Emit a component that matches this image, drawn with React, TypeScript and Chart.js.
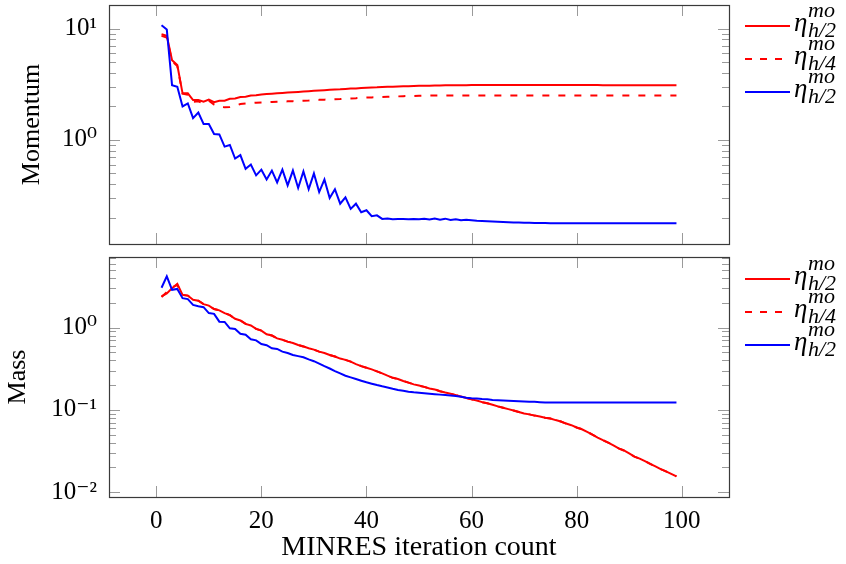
import React, { useEffect, useRef } from 'react';
import { Chart, registerables } from 'chart.js';

Chart.register(...registerables);

// ---------------- data ----------------
const iterations = [
  1, 2, 3, 4, 5, 6, 7, 8, 9, 10,
  11, 12, 13, 14, 15, 16, 17, 18, 19, 20,
  21, 22, 23, 24, 25, 26, 27, 28, 29, 30,
  31, 32, 33, 34, 35, 36, 37, 38, 39, 40,
  41, 42, 43, 44, 45, 46, 47, 48, 49, 50,
  51, 52, 53, 54, 55, 56, 57, 58, 59, 60,
  61, 62, 63, 64, 65, 66, 67, 68, 69, 70,
  71, 72, 73, 74, 75, 76, 77, 78, 79, 80,
  81, 82, 83, 84, 85, 86, 87, 88, 89, 90,
  91, 92, 93, 94, 95, 96, 97, 98, 99,
];

// Momentum panel
const momentumEtaH2 = [
  8.9, 8.6, 5.2, 4.7, 2.62, 2.62, 2.28, 2.28, 2.2, 2.3,
  2.18, 2.25, 2.25, 2.34, 2.36, 2.43, 2.44, 2.5, 2.52, 2.56,
  2.58, 2.6, 2.62, 2.64, 2.66, 2.68, 2.7, 2.72, 2.74, 2.76,
  2.78, 2.8, 2.82, 2.84, 2.85, 2.87, 2.89, 2.9, 2.92, 2.94,
  2.96, 2.97, 2.99, 3.0, 3.01, 3.02, 3.03, 3.04, 3.05, 3.06,
  3.07, 3.07, 3.08, 3.08, 3.09, 3.09, 3.1, 3.1, 3.1, 3.11,
  3.11, 3.11, 3.11, 3.11, 3.11, 3.11, 3.11, 3.11, 3.11, 3.11,
  3.11, 3.11, 3.11, 3.11, 3.11, 3.11, 3.11, 3.11, 3.11, 3.11,
  3.11, 3.11, 3.11, 3.11, 3.1, 3.1, 3.1, 3.1, 3.1, 3.1,
  3.1, 3.1, 3.1, 3.1, 3.1, 3.1, 3.1, 3.1, 3.1,
];
const momentumEtaH4 = [
  8.6, 8.3, 5.1, 4.6, 2.6, 2.55, 2.2, 2.22, 2.12, 2.25,
  2.08, 2.0, 1.96, 1.97, 2.02, 2.1, 2.12, 2.14, 2.16, 2.17,
  2.18, 2.19, 2.2, 2.21, 2.22, 2.23, 2.24, 2.25, 2.26, 2.28,
  2.29, 2.3, 2.31, 2.32, 2.33, 2.35, 2.36, 2.37, 2.39, 2.4,
  2.41, 2.42, 2.43, 2.44, 2.45, 2.46, 2.47, 2.48, 2.48, 2.49,
  2.49, 2.5, 2.5, 2.5, 2.5, 2.51, 2.51, 2.51, 2.51, 2.51,
  2.51, 2.51, 2.51, 2.51, 2.51, 2.51, 2.51, 2.51, 2.51, 2.51,
  2.51, 2.51, 2.51, 2.51, 2.51, 2.51, 2.51, 2.51, 2.51, 2.51,
  2.51, 2.51, 2.51, 2.51, 2.51, 2.51, 2.51, 2.51, 2.51, 2.51,
  2.51, 2.51, 2.51, 2.51, 2.51, 2.51, 2.51, 2.51, 2.51,
];
const momentumEtaH2Blue = [
  10.7, 9.8, 3.1, 3.0, 2.0, 2.13, 1.57, 1.76, 1.39, 1.39,
  1.13, 1.12, 0.87, 0.9, 0.68, 0.73, 0.55, 0.6, 0.48, 0.54,
  0.44, 0.53, 0.415, 0.54, 0.39, 0.53, 0.37, 0.52, 0.36, 0.5,
  0.34, 0.44, 0.3, 0.36, 0.267, 0.305, 0.24, 0.267, 0.224, 0.233,
  0.206, 0.21, 0.195, 0.197, 0.194, 0.195, 0.195, 0.194, 0.195, 0.194,
  0.196, 0.193, 0.197, 0.192, 0.196, 0.191, 0.194, 0.19, 0.192, 0.19,
  0.188, 0.187, 0.186, 0.185, 0.184, 0.183, 0.182, 0.181, 0.181, 0.18,
  0.18, 0.179, 0.179, 0.179, 0.178, 0.178, 0.178, 0.178, 0.178, 0.178,
  0.178, 0.178, 0.178, 0.178, 0.178, 0.178, 0.178, 0.178, 0.178, 0.178,
  0.178, 0.178, 0.178, 0.178, 0.178, 0.178, 0.178, 0.178, 0.178,
];

// Mass panel
const massEtaH2 = [
  2.4, 2.6, 3.0, 3.4, 2.5, 2.45, 2.18, 2.12, 1.93, 1.85,
  1.68, 1.62, 1.5, 1.42, 1.28, 1.22, 1.11, 1.06, 0.965, 0.92,
  0.83, 0.8, 0.74, 0.71, 0.675, 0.65, 0.615, 0.59, 0.56, 0.54,
  0.51, 0.49, 0.465, 0.445, 0.42, 0.405, 0.385, 0.36, 0.34, 0.325,
  0.31, 0.293, 0.277, 0.26, 0.245, 0.237, 0.224, 0.214, 0.204, 0.197,
  0.19, 0.182, 0.177, 0.168, 0.162, 0.157, 0.15, 0.145, 0.139, 0.134,
  0.13, 0.124, 0.12, 0.115, 0.11, 0.106, 0.102, 0.098, 0.094, 0.09,
  0.088, 0.085, 0.083, 0.08, 0.0785, 0.075, 0.072, 0.068, 0.065, 0.061,
  0.058, 0.054, 0.05, 0.046, 0.0427, 0.04, 0.037, 0.034, 0.032, 0.0295,
  0.027, 0.0255, 0.0238, 0.022, 0.0205, 0.019, 0.0178, 0.0166, 0.0155,
];
const massEtaH4 = [
  2.35, 2.7, 3.1, 3.3, 2.5, 2.45, 2.18, 2.12, 1.93, 1.85,
  1.68, 1.62, 1.5, 1.42, 1.28, 1.22, 1.11, 1.06, 0.965, 0.92,
  0.83, 0.8, 0.74, 0.71, 0.675, 0.65, 0.615, 0.59, 0.56, 0.54,
  0.51, 0.49, 0.465, 0.445, 0.42, 0.405, 0.385, 0.36, 0.34, 0.325,
  0.31, 0.293, 0.277, 0.26, 0.245, 0.237, 0.224, 0.214, 0.204, 0.197,
  0.19, 0.182, 0.177, 0.168, 0.162, 0.157, 0.15, 0.145, 0.139, 0.134,
  0.13, 0.124, 0.12, 0.115, 0.11, 0.106, 0.102, 0.098, 0.094, 0.09,
  0.088, 0.085, 0.083, 0.08, 0.0785, 0.075, 0.072, 0.068, 0.065, 0.061,
  0.058, 0.054, 0.05, 0.046, 0.0427, 0.04, 0.037, 0.034, 0.032, 0.0295,
  0.027, 0.0255, 0.0238, 0.022, 0.0205, 0.019, 0.0178, 0.0166, 0.0155,
];
const massEtaH2Blue = [
  3.05, 4.2, 2.88, 2.95, 2.28, 2.22, 1.89, 1.82, 1.77, 1.5,
  1.47, 1.18, 1.17, 0.98, 0.96, 0.84, 0.82, 0.72, 0.7, 0.63,
  0.61, 0.56, 0.55, 0.51, 0.49, 0.465, 0.45, 0.435, 0.41, 0.39,
  0.365, 0.34, 0.318, 0.296, 0.277, 0.26, 0.248, 0.237, 0.226, 0.216,
  0.208, 0.2, 0.193, 0.187, 0.18, 0.174, 0.17, 0.166, 0.163, 0.161,
  0.159, 0.157, 0.155, 0.153, 0.151, 0.149, 0.147, 0.144, 0.14, 0.138,
  0.137, 0.135, 0.134, 0.132, 0.131, 0.13, 0.129, 0.128, 0.127, 0.126,
  0.125, 0.125, 0.124, 0.123, 0.123, 0.123, 0.123, 0.123, 0.123, 0.123,
  0.123, 0.123, 0.123, 0.123, 0.123, 0.123, 0.123, 0.123, 0.123, 0.123,
  0.123, 0.123, 0.123, 0.123, 0.123, 0.123, 0.123, 0.123, 0.123,
];

// axes / ticks
const xTickValues = [0, 20, 40, 60, 80, 100];
const momentumTickValues = [0.2, 0.3, 0.4, 0.5, 0.6, 0.7, 0.8, 0.9, 1, 2, 3, 4, 5, 6, 7, 8, 9, 10];
const massTickValues = [
  0.01, 0.02, 0.03, 0.04, 0.05, 0.06, 0.07, 0.08, 0.09,
  0.1, 0.2, 0.3, 0.4, 0.5, 0.6, 0.7, 0.8, 0.9,
  1, 2, 3, 4, 5, 6, 7,
];
const logTickLabels: Record<string, string> = { '10': '10¹', '1': '10⁰', '0.1': '10⁻¹', '0.01': '10⁻²' };
const xRange = [-9, 109];
const momentumRange = [0.116, 16.3];
const massRange = [0.0087, 7.22];
const xTitle = 'MINRES iteration count';
const momentumTitle = 'Momentum';
const massTitle = 'Mass';

const legendEntries = [
  { sub: 'h/2', sup: 'mo', color: '#ff0000', dashed: false },
  { sub: 'h/4', sup: 'mo', color: '#ff0000', dashed: true },
  { sub: 'h/2', sup: 'mo', color: '#0000ff', dashed: false },
];

// ---------------- style ----------------
const FONT = "'Liberation Serif', 'DejaVu Serif', serif";
const TICK_COLOR = '#9a9a9a';
const FRAME_COLOR = '#3a3a3a';
const MAJOR = 11;
const MINOR = 7;

const isPow10 = (v: number) => Math.abs(Math.log10(v) - Math.round(Math.log10(v))) < 1e-9;

const frameTicksPlugin = {
  id: 'frameTicks',
  afterDatasetsDraw(chart: any) {
    const { ctx, chartArea: a, scales } = chart;
    const xs = scales.x;
    const ys = scales.y;
    ctx.save();
    ctx.lineWidth = 1;
    ctx.strokeStyle = TICK_COLOR;
    const seg = (x1: number, y1: number, x2: number, y2: number) => {
      ctx.beginPath();
      ctx.moveTo(x1, y1);
      ctx.lineTo(x2, y2);
      ctx.stroke();
    };
    xs.ticks.forEach((t: any) => {
      const px = Math.round(xs.getPixelForValue(t.value)) + 0.5;
      seg(px, a.top, px, a.top + MAJOR);
      seg(px, a.bottom, px, a.bottom - MAJOR);
    });
    ys.ticks.forEach((t: any) => {
      const len = isPow10(t.value) ? MAJOR : MINOR;
      const py = Math.round(ys.getPixelForValue(t.value)) + 0.5;
      seg(a.left, py, a.left + len, py);
      seg(a.right, py, a.right - len, py);
    });
    ctx.strokeStyle = FRAME_COLOR;
    ctx.lineWidth = 1.2;
    ctx.strokeRect(a.left + 0.5, a.top + 0.5, a.right - a.left, a.bottom - a.top);
    ctx.restore();
  },
};

function toPoints(values: number[]) {
  return iterations.map((x, i) => ({ x, y: values[i] }));
}

function makeDatasets(h2: number[], h4: number[], blue: number[]) {
  return [
    { data: toPoints(h2), borderColor: '#ff0000', borderWidth: 2, pointRadius: 0, tension: 0, fill: false, order: 3 },
    { data: toPoints(h4), borderColor: '#ff0000', borderWidth: 2, borderDash: [7, 9], pointRadius: 0, tension: 0, fill: false, order: 2 },
    { data: toPoints(blue), borderColor: '#0000ff', borderWidth: 2, pointRadius: 0, tension: 0, fill: false, order: 1 },
  ];
}

function makeOptions(opts: {
  yRange: number[];
  yTicks: number[];
  yTitle: string;
  padLeft: number;
  padTop: number;
  padBottom: number;
  showX: boolean;
  xHeight: number;
}) {
  return {
    responsive: false,
    animation: false as const,
    events: [] as any[],
    layout: { padding: { left: opts.padLeft, top: opts.padTop, right: 846 - 729, bottom: opts.padBottom } },
    plugins: { legend: { display: false }, tooltip: { enabled: false } },
    scales: {
      x: {
        type: 'linear' as const,
        min: xRange[0],
        max: xRange[1],
        grid: { display: false, drawTicks: false },
        border: { display: false },
        ticks: {
          display: opts.showX,
          autoSkip: false,
          padding: 9,
          color: '#000',
          font: { family: FONT, size: 25 },
          callback: (v: any) => String(v),
        },
        title: {
          display: opts.showX,
          text: xTitle,
          color: '#000',
          padding: 0,
          font: { family: FONT, size: 28 },
        },
        afterBuildTicks: (s: any) => {
          s.ticks = xTickValues.map((v) => ({ value: v }));
        },
        afterFit: (s: any) => {
          s.height = opts.xHeight;
          s.paddingLeft = 0;
          s.paddingRight = 0;
        },
      },
      y: {
        type: 'logarithmic' as const,
        min: opts.yRange[0],
        max: opts.yRange[1],
        grid: { display: false, drawTicks: false },
        border: { display: false },
        ticks: {
          autoSkip: false,
          padding: 12,
          color: '#000',
          font: { family: FONT, size: 25 },
          callback: (v: any) => {
            const key = String(Number(v));
            return logTickLabels[key] ?? '';
          },
        },
        title: {
          display: true,
          text: opts.yTitle,
          color: '#000',
          padding: 0,
          font: { family: FONT, size: 26 },
        },
        afterBuildTicks: (s: any) => {
          s.ticks = opts.yTicks.map((v) => ({ value: v }));
        },
        afterFit: (s: any) => {
          s.width = 109 - opts.padLeft;
          s.paddingTop = 0;
          s.paddingBottom = 0;
        },
      },
    },
  };
}

function Legend({ top }: { top: number }) {
  return (
    <>
      {legendEntries.map((e, i) => {
        const y = top + i * 33;
        return (
          <React.Fragment key={i}>
            <div
              style={{
                position: 'absolute',
                left: 745,
                top: y - 1,
                width: 45,
                height: 2,
                background: e.dashed
                  ? `repeating-linear-gradient(to right, ${e.color} 0px, ${e.color} 7px, transparent 7px, transparent 15px)`
                  : e.color,
              }}
            />
            <span
              style={{
                position: 'absolute',
                left: 794,
                top: y - 17,
                fontFamily: FONT,
                fontStyle: 'italic',
                fontSize: 27,
                lineHeight: 1,
                whiteSpace: 'nowrap',
              }}
            >
              η
            </span>
            <span
              style={{
                position: 'absolute',
                left: 808,
                top: y - 27,
                fontFamily: FONT,
                fontStyle: 'italic',
                fontSize: 22,
                lineHeight: 1,
                whiteSpace: 'nowrap',
              }}
            >
              {e.sup}
            </span>
            <span
              style={{
                position: 'absolute',
                left: 808,
                top: y - 7,
                fontFamily: FONT,
                fontStyle: 'italic',
                fontSize: 22,
                lineHeight: 1,
                whiteSpace: 'nowrap',
              }}
            >
              {e.sub}
            </span>
          </React.Fragment>
        );
      })}
    </>
  );
}

export default function App() {
  const topRef = useRef<HTMLCanvasElement>(null);
  const bottomRef = useRef<HTMLCanvasElement>(null);

  useEffect(() => {
    const top = new Chart(topRef.current as HTMLCanvasElement, {
      type: 'line',
      data: { datasets: makeDatasets(momentumEtaH2, momentumEtaH4, momentumEtaH2Blue) as any },
      options: makeOptions({
        yRange: momentumRange,
        yTicks: momentumTickValues,
        yTitle: momentumTitle,
        padLeft: 17,
        padTop: 5,
        padBottom: 6,
        showX: false,
        xHeight: 0,
      }) as any,
      plugins: [frameTicksPlugin],
    });
    const bottom = new Chart(bottomRef.current as HTMLCanvasElement, {
      type: 'line',
      data: { datasets: makeDatasets(massEtaH2, massEtaH4, massEtaH2Blue) as any },
      options: makeOptions({
        yRange: massRange,
        yTicks: massTickValues,
        yTitle: massTitle,
        padLeft: 3,
        padTop: 7,
        padBottom: 0,
        showX: true,
        xHeight: 67,
      }) as any,
      plugins: [frameTicksPlugin],
    });
    return () => {
      top.destroy();
      bottom.destroy();
    };
  }, []);

  return (
    <div
      style={{
        position: 'fixed',
        left: 0,
        top: 0,
        width: 846,
        height: 564,
        overflow: 'hidden',
        background: '#fff',
      }}
    >
      <canvas ref={topRef} width={846} height={250} style={{ position: 'absolute', left: 0, top: 0 }} />
      <canvas ref={bottomRef} width={846} height={314} style={{ position: 'absolute', left: 0, top: 250 }} />
      <Legend top={26} />
      <Legend top={279} />
    </div>
  );
}
